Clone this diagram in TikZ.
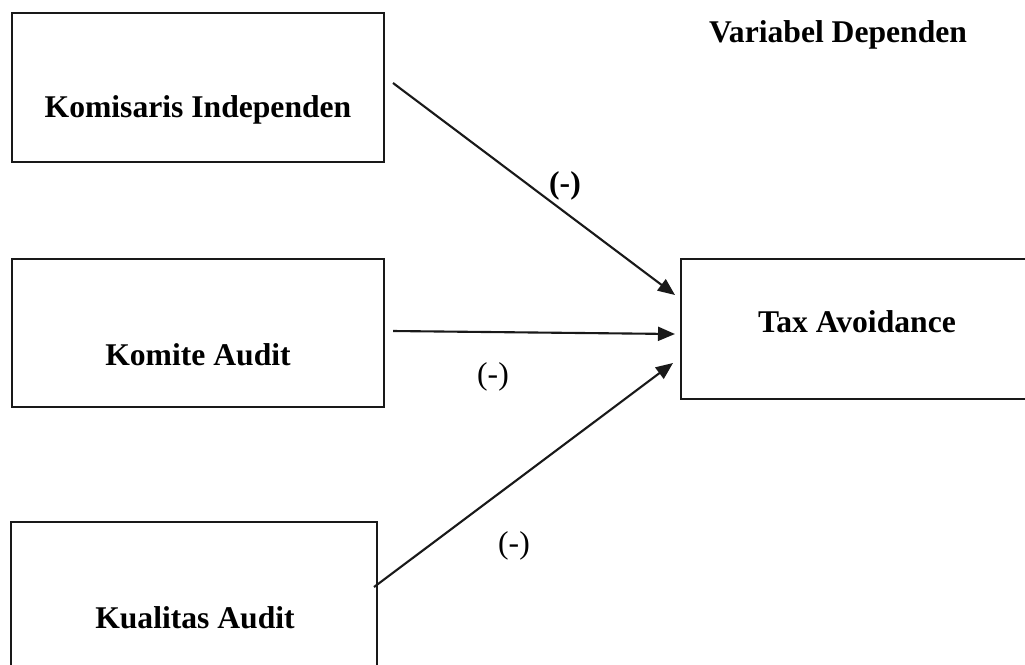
\documentclass[tikz,border=0pt]{standalone}
\usepackage{fontspec}
\setmainfont{Liberation Serif}
\usetikzlibrary{arrows.meta,calc}

\begin{document}
\begin{tikzpicture}[x=0.02cm,y=-0.02cm,
    box/.style={draw=black!90, line width=1.2pt, inner sep=0pt},
    lbl/.style={font=\fontsize{18}{21}\selectfont\bfseries},
    sign/.style={font=\fontsize{18}{21}\selectfont},
    arr/.style={-{Triangle[length=0.34cm,width=0.28cm]}, line width=1.2pt, draw=black!90}]

        \useasboundingbox (0,0) rectangle (1025,664);

        % Boxes for the variables
        \node[box, minimum width=7.44cm, minimum height=2.98cm] (komisaris) at (198,87.5) {};
        \node[box, minimum width=7.44cm, minimum height=2.96cm] (komite) at (198,333) {};
        \node[box, minimum width=7.32cm, minimum height=3.56cm] (kualitas) at (194,611) {};
        \node[box, minimum width=7.28cm, minimum height=2.8cm] (tax) at (863,329) {};

        % Labels in the boxes
        \node[lbl] (komisaris-text) at (198,110) {Komisaris Independen};
        \node[lbl] (komite-text) at (198,355) {Komite Audit};
        \node[lbl] (kualitas-text) at (195,618) {Kualitas Audit};
        \node[lbl] (tax-text) at (857,322) {Tax Avoidance};
        \node[lbl] (dependen) at (838,35) {Variabel Dependen};

        % Connect the independent variables to tax avoidance
        \draw[arr] ($(komisaris.east)+(8,-4.5)$) -- ($(tax.west)+(-5,-34)$);
        \draw[arr] ($(komite.east)+(8,-2)$) -- ($(tax.west)+(-5,5)$);
        \draw[arr] ($(kualitas.east)+(-4,-24)$) -- ($(tax.west)+(-7,34)$);

        % Signs on the connectors
        \node[lbl] (sign-1) at (565,186) {(-)};
        \node[sign] (sign-2) at (493,377) {(-)};
        \node[sign] (sign-3) at (514,546) {(-)};

\end{tikzpicture}
\end{document}
